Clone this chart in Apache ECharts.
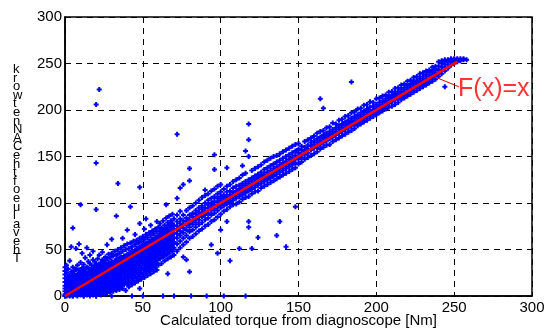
<!DOCTYPE html>
<html>
<head>
<meta charset="utf-8">
<script src="https://cdn.jsdelivr.net/npm/echarts@6/dist/echarts.min.js"></script>
<style>
html, body { margin: 0; padding: 0; background: #fff; }
#chart { width: 545px; height: 329px; }
</style>
</head>
<body>
<div id="chart"></div>
<script>
// axis ticks
var xTicks = [0, 50, 100, 150, 200, 250, 300];
var yTicks = [0, 50, 100, 150, 200, 250, 300];

var bandLow = [
  [0, 0, 2, 5, 8, 11, 15, 19, 23, 27, 31],
  [1, 0, 3, 7, 10, 14, 18, 25, 33],
  [2, 1, 4, 6, 9, 13, 17, 21, 29],
  [3, 0, 2, 5, 9, 12, 16, 22, 38],
  [4, 1, 3, 6, 10, 15, 19, 26, 53],
  [5, 0, 4, 8, 11, 14, 20, 24, 31, 73],
  [6, 2, 5, 7, 12, 16, 21, 27],
  [7, 1, 3, 9, 13, 17, 22, 29, 51],
  [8, 0, 4, 7, 10, 15, 19, 24, 33],
  [9, 2, 6, 9, 14, 18, 23, 28, 56],
  [10, 1, 5, 10, 13, 17, 21, 26, 36, 98],
  [11, 3, 7, 11, 15, 19, 24, 30, 46],
  [12, 0, 4, 9, 12, 16, 20, 27, 34],
  [13, 2, 6, 10, 14, 18, 23, 29, 41],
  [14, 1, 5, 8, 13, 17, 21, 25, 31, 52],
  [15, 3, 7, 11, 15, 19, 24, 30, 37],
  [16, 0, 4, 9, 13, 18, 22, 27, 35, 44],
  [17, 2, 6, 10, 14, 19, 23, 28, 33],
  [18, 1, 5, 11, 16, 20, 25, 30, 39, 48],
  [19, 3, 8, 12, 17, 21, 26, 32, 37],
  [20, 0, 6, 10, 15, 20, 24, 29, 35, 93, 143, 206],
  [21, 2, 7, 13, 18, 22, 27, 31, 40],
  [22, 4, 9, 14, 19, 23, 28, 34, 44, 222],
  [23, 1, 8, 12, 17, 21, 26, 30, 36],
  [24, 5, 10, 15, 20, 24, 29, 33, 39, 47],
  [25, 2, 7, 13, 18, 23, 27, 32, 38],
  [26, 6, 11, 16, 21, 25, 30, 35, 42],
  [27, 3, 9, 14, 19, 24, 28, 33, 40, 55],
  [28, 7, 12, 17, 22, 26, 31, 36, 45],
  [29, 4, 10, 15, 20, 25, 30, 34, 41],
  [30, 8, 13, 18, 23, 28, 32, 37, 46, 61],
  [31, 5, 11, 17, 22, 27, 31, 36, 43],
  [32, 9, 14, 19, 24, 29, 33, 38, 48],
  [33, 6, 12, 18, 23, 28, 34, 39, 44, 86],
  [34, 10, 16, 21, 26, 31, 35, 40, 50, 121],
  [35, 7, 13, 19, 24, 29, 34, 39, 46],
  [36, 11, 17, 22, 27, 32, 37, 42, 52],
  [37, 8, 14, 20, 26, 31, 36, 41, 48, 62],
  [38, 12, 18, 24, 29, 34, 38, 43, 54],
  [39, 6, 15, 21, 27, 32, 37, 42, 50],
  [40, 13, 20, 26, 31, 36, 40, 45, 56, 71],
  [41, 10, 17, 23, 29, 34, 39, 44, 51],
  [42, 15, 22, 27, 32, 37, 42, 47, 57, 96],
  [43, 12, 19, 25, 30, 35, 41, 46, 53],
  [44, 17, 23, 29, 34, 39, 43, 48, 59],
  [45, 14, 21, 27, 33, 38, 44, 49, 55, 66],
  [46, 19, 25, 31, 36, 41, 46, 51, 60],
  [47, 16, 23, 29, 35, 40, 45, 50, 57],
  [48, 8, 21, 27, 33, 38, 43, 48, 53, 62, 78, 117],
  [49, 18, 25, 31, 37, 42, 47, 52, 59],
  [50, 23, 29, 35, 40, 45, 50, 55, 64],
  [51, 20, 28, 34, 39, 44, 49, 54, 61, 72],
  [52, 25, 31, 37, 42, 47, 52, 57, 66, 83],
  [53, 22, 30, 36, 41, 46, 51, 56, 63],
  [54, 27, 33, 39, 44, 49, 54, 59, 68],
  [55, 24, 32, 38, 43, 48, 53, 58, 65, 76],
  [56, 29, 35, 41, 46, 51, 56, 61, 70],
  [57, 26, 34, 40, 45, 50, 55, 60, 67],
  [58, 31, 37, 43, 48, 53, 58, 63, 72],
  [59, 28, 36, 42, 47, 52, 57, 62, 69, 80],
  [60, 33, 40, 45, 50, 55, 60, 65, 74],
  [61, 40, 47, 52, 57, 61, 65, 70, 78],
  [62, 35, 44, 50, 55, 60, 64, 68, 73],
  [63, 42, 49, 54, 59, 63, 67, 72, 81],
  [64, 38, 46, 52, 57, 62, 66, 70, 76],
  [65, 44, 51, 56, 61, 65, 69, 74, 84, 98],
  [66, 24, 40, 48, 54, 59, 64, 68, 72, 79],
  [67, 46, 53, 58, 63, 67, 71, 76, 86],
  [68, 42, 50, 56, 61, 66, 70, 74, 81],
  [69, 48, 55, 60, 65, 69, 73, 78, 88],
  [70, 44, 52, 58, 63, 68, 72, 76, 83]
];

var bandMid = [
  [72, 48, 56, 62, 67, 71, 75, 80, 87, 105, 174],
  [74, 52, 59, 65, 70, 74, 78, 83, 91, 116],
  [76, 42, 55, 62, 68, 73, 77, 81, 87, 120],
  [78, 39, 58, 65, 71, 76, 80, 84, 92],
  [80, 26, 62, 69, 74, 78, 82, 87, 95, 124, 137],
  [82, 64, 71, 77, 81, 85, 89, 97],
  [84, 67, 74, 79, 84, 88, 92, 100],
  [86, 70, 77, 82, 86, 90, 95, 103],
  [88, 72, 79, 85, 89, 93, 97, 106],
  [90, 75, 82, 87, 91, 95, 100, 108, 114],
  [92, 77, 84, 89, 94, 98, 103, 110],
  [94, 55, 80, 87, 92, 96, 100, 105, 113],
  [96, 82, 89, 94, 98, 102, 107, 115, 136, 152],
  [98, 46, 85, 92, 97, 101, 105, 110, 118],
  [100, 71, 88, 95, 99, 103, 107, 112, 120],
  [102, 91, 97, 101, 105, 109, 115],
  [104, 80, 93, 99, 103, 107, 112, 118, 138],
  [106, 38, 96, 101, 105, 109, 113, 120],
  [108, 98, 103, 107, 111, 116, 123],
  [110, 99, 105, 109, 113, 118, 125],
  [112, 51, 101, 107, 111, 115, 119, 127],
  [114, 104, 109, 113, 117, 121, 130, 140],
  [116, 106, 111, 115, 119, 123, 132, 156],
  [118, 74, 80, 107, 113, 117, 121, 125, 150, 168, 185],
  [120, 51, 110, 115, 119, 123, 127, 135],
  [122, 112, 117, 121, 125, 129, 137],
  [124, 63, 113, 119, 123, 127, 131, 139],
  [126, 116, 121, 125, 129, 133, 141],
  [128, 118, 123, 127, 131, 136, 144],
  [130, 120, 125, 129, 133, 138, 146],
  [132, 122, 127, 131, 135, 140, 148],
  [134, 124, 129, 133, 137, 142, 150],
  [136, 65, 126, 131, 135, 139, 144, 151],
  [138, 80, 128, 133, 137, 141, 146, 153],
  [140, 130, 135, 139, 143, 148, 155],
  [142, 53, 132, 137, 141, 145, 150, 157],
  [144, 134, 139, 143, 147, 152, 159],
  [146, 136, 141, 145, 149, 154, 161],
  [148, 96, 138, 143, 147, 151, 156, 163]
];

var bandHigh = [
  [150, 142, 147, 150, 154, 158, 164],
  [152, 144, 149, 153, 157, 161],
  [154, 147, 152, 156, 160, 166],
  [156, 149, 154, 158, 162, 168],
  [158, 151, 157, 161, 165, 170],
  [160, 153, 159, 163, 167, 172],
  [162, 155, 160, 165, 169, 175],
  [164, 158, 163, 167, 171, 177, 212],
  [166, 160, 165, 169, 173, 178, 202],
  [168, 162, 167, 171, 175, 181],
  [170, 163, 169, 173, 177, 182],
  [172, 166, 171, 175, 179, 186],
  [174, 168, 173, 177, 181, 185],
  [176, 170, 175, 179, 183, 189],
  [178, 172, 177, 181, 185, 190],
  [180, 174, 179, 183, 187, 193],
  [182, 176, 181, 185, 189, 194],
  [184, 178, 183, 187, 191, 197, 230],
  [186, 180, 185, 189, 193, 198],
  [188, 183, 187, 191, 195, 201],
  [190, 185, 189, 193, 197, 202],
  [192, 187, 191, 195, 199, 205],
  [194, 189, 193, 197, 201, 206],
  [196, 191, 195, 199, 203, 209],
  [198, 193, 197, 200, 204, 208],
  [200, 195, 199, 202, 206, 212],
  [202, 197, 201, 204, 208, 213],
  [204, 199, 203, 206, 210, 215],
  [206, 201, 205, 208, 212, 216],
  [208, 203, 207, 210, 214, 219],
  [210, 204, 209, 212, 216, 220],
  [212, 206, 211, 214, 218, 223],
  [214, 208, 213, 216, 220, 224],
  [216, 211, 215, 218, 222, 227],
  [218, 213, 217, 220, 224, 228],
  [220, 215, 219, 222, 226, 231],
  [222, 217, 221, 224, 228, 232],
  [224, 219, 223, 226, 230, 235],
  [226, 221, 225, 228, 232, 236],
  [228, 223, 227, 230, 234, 239],
  [230, 225, 229, 232, 236, 240],
  [232, 227, 231, 234, 238, 242],
  [234, 229, 233, 236, 240, 243],
  [236, 231, 235, 238, 242, 246],
  [238, 233, 237, 240, 244, 247],
  [240, 236, 240, 243, 247, 252],
  [242, 239, 243, 246, 250, 253],
  [244, 242, 246, 249, 252, 254, 225],
  [246, 245, 249, 252, 254],
  [248, 248, 251, 253, 255],
  [250, 250, 252, 254, 255],
  [252, 252, 254, 255],
  [254, 253, 255],
  [256, 254, 255],
  [258, 254]
];

// points sitting on the x axis
var bottomRow = [0, 5, 12, 20, 30, 43, 50, 63, 70, 81, 91, 102, 116];

// reference line F(x)=x and its annotation
var lineEnds = [[0, 0], [252, 252]];
var arrowEnds = [[237, 236], [253, 225]];
var labelAt = [252.5, 222];

var points = [];
[bandLow, bandMid, bandHigh].forEach(function (rows) {
  rows.forEach(function (r) {
    for (var i = 1; i < r.length; i++) points.push([r[0], r[i]]);
  });
});
bottomRow.forEach(function (x) { points.push([x, 0]); });

var yName = 'The value of the CAN network';
var stacked = yName.replace(/ /g, '').split('').reverse().join('\n');

var font = '"Liberation Sans", Arial, sans-serif';
var chart = echarts.init(document.getElementById('chart'));

var option = {
  animation: false,
  backgroundColor: '#fff',
  grid: {
    left: 65, right: 13, top: 17, bottom: 33,
    containLabel: false,
    outerBoundsMode: 'none',
    show: true,
    borderColor: '#000',
    borderWidth: 1.5
  },
  xAxis: {
    type: 'value',
    min: 0, max: 300, interval: 50,
    name: 'Calculated torque from diagnoscope [Nm]',
    nameLocation: 'middle',
    nameGap: 17,
    nameMoveOverlap: false,
    nameTextStyle: { fontFamily: font, fontSize: 15, color: '#000', verticalAlign: 'top' },
    axisLine: { show: true, lineStyle: { color: '#000', width: 1.5 } },
    axisTick: { show: false },
    axisLabel: {
      fontFamily: font, fontSize: 15, color: '#000', margin: 4,
      formatter: function (v) { return xTicks.indexOf(v) >= 0 ? String(v) : ''; }
    },
    splitLine: { show: true, lineStyle: { color: '#000', width: 1, type: [6, 5] } }
  },
  yAxis: {
    type: 'value',
    min: 0, max: 300, interval: 50,
    axisLine: { show: true, lineStyle: { color: '#000', width: 1.5 } },
    axisTick: { show: false },
    axisLabel: {
      fontFamily: font, fontSize: 15, color: '#000', margin: 3,
      formatter: function (v) { return yTicks.indexOf(v) >= 0 ? String(v) : ''; }
    },
    splitLine: { show: true, lineStyle: { color: '#000', width: 1, type: [6, 5] } }
  },
  graphic: [{
    type: 'text',
    left: 13,
    top: 63,
    style: {
      text: stacked,
      fontFamily: font,
      fontSize: 13,
      lineHeight: 8.6,
      fill: '#000',
      align: 'center'
    }
  }],
  series: [
    {
      type: 'scatter',
      data: points,
      symbol: 'path://M1.5 0h2v1.5h1.5v2h-1.5v1.5h-2v-1.5h-1.5v-2h1.5z',
      symbolSize: 5,
      itemStyle: { color: '#0000ff', opacity: 1 },
      z: 2
    },
    {
      type: 'line',
      data: lineEnds,
      showSymbol: false,
      lineStyle: { color: '#ff0000', width: 2.5 },
      z: 3
    },
    {
      type: 'line',
      data: arrowEnds,
      showSymbol: false,
      lineStyle: { color: '#ff0000', width: 1 },
      z: 3
    },
    {
      type: 'scatter',
      data: [labelAt],
      symbolSize: 0,
      label: {
        show: true,
        position: 'right',
        distance: 0,
        formatter: 'F(x)=x',
        fontFamily: font,
        fontSize: 25,
        color: '#ff0000'
      },
      z: 4
    }
  ]
};
chart.setOption(option);
</script>
</body>
</html>
